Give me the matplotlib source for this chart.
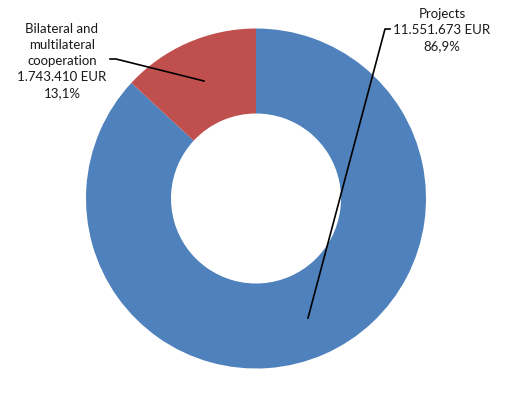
import matplotlib
matplotlib.use("Agg")
from matplotlib import pyplot as plt

labels = ["Projects", "Bilateral and\nmultilateral\ncooperation"]
amounts = ["11.551.673 EUR", "1.743.410 EUR"]
shares = [86.9, 13.1]
colors = ["#4F81BD", "#C0504D"]

W, H = 514, 396
CX, CY, R = 256, 198.5, 170.0


def px(x, y):
    # pixel position -> data coords of the pie axes
    return (x - CX) / R, (CY - y) / R


fig = plt.figure(figsize=(W / 100, H / 100), dpi=100)
ax = fig.add_axes([0, 0, 1, 1])
ax.pie(shares, colors=colors, startangle=90, counterclock=False,
       radius=1.0, wedgeprops=dict(width=0.5, edgecolor="none"))
ax.set_xlim((0 - CX) / R, (W - CX) / R)
ax.set_ylim((CY - H) / R, CY / R)
ax.set_aspect("equal")
ax.axis("off")

font = dict(family="Lato", fontsize=9.5, color="#1a1a1a",
            ha="center", va="center", linespacing=1.42)

# Projects label
t0 = "{}\n{}\n{}%".format(labels[0], amounts[0], str(shares[0]).replace(".", ","))
ax.text(*px(442, 30), t0, **font)
ax.plot(*zip(px(390, 29), px(385, 29), px(308, 318)), color="black", lw=1.2)

# Bilateral label
t1 = "{}\n{}\n{}%".format(labels[1], amounts[1], str(shares[1]).replace(".", ","))
ax.text(*px(62, 61), t1, **font)
ax.plot(*zip(px(110, 59), px(116, 59), px(204, 81)), color="black", lw=1.2)

fig.savefig("out.png", dpi=100)
